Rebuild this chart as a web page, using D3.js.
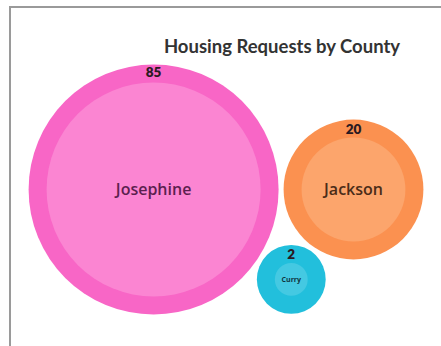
<!DOCTYPE html>
<html>
<head>
<meta charset="utf-8">
<script src="https://cdn.jsdelivr.net/npm/d3@7"></script>
<style>
  html, body { margin: 0; padding: 0; background: #ffffff; }
  svg { display: block; }
</style>
</head>
<body>
<svg id="chart" width="441" height="346"></svg>
<script>
// Housing requests per county
const counties = ["Josephine", "Jackson", "Curry"];
const requests = [85, 20, 2];
const outerColors = ["#f866c6", "#fb9150", "#22bfdc"];
const innerColors = ["#fb85d2", "#fca56c", "#44c9e2"];
const nameColors = ["#5b1f4f", "#4a2c18", "#0f3640"];
const nameSizes = [16, 16, 7];

const W = 441, H = 346;
const svg = d3.select("#chart");

// frame
svg.append("path")
  .attr("d", `M10,${H} V7 H${W}`)
  .attr("fill", "none")
  .attr("stroke", "#9a9a9a")
  .attr("stroke-width", 2);

svg.append("text")
  .attr("x", 282)
  .attr("y", 53)
  .attr("text-anchor", "middle")
  .attr("font-family", "Lato, 'Open Sans', sans-serif")
  .attr("font-weight", 700)
  .attr("font-size", 18.5)
  .attr("fill", "#333333")
  .text("Housing Requests by County");

// bubble radius grows with the square root of the count
const r = d3.scaleSqrt().domain([0, 85]).range([18, 125]);
const pad = 2.5;
const ring = 18;

const nodes = counties.map((name, i) => ({
  name, value: requests[i], i, radius: r(requests[i]), r: r(requests[i]) + pad
}));
d3.packSiblings(nodes);

// center the pack in the plot area
const x0 = d3.min(nodes, d => d.x - d.radius), x1 = d3.max(nodes, d => d.x + d.radius);
const y0 = d3.min(nodes, d => d.y - d.radius), y1 = d3.max(nodes, d => d.y + d.radius);
const cx = 226, cy = 189.5;
const g = svg.append("g")
  .attr("transform", `translate(${cx - (x0 + x1) / 2},${cy - (y0 + y1) / 2})`);

const bubble = g.selectAll("g.bubble")
  .data(nodes)
  .join("g")
  .attr("class", "bubble")
  .attr("transform", d => `translate(${d.x},${d.y})`);

bubble.append("circle")
  .attr("r", d => d.radius)
  .attr("fill", d => outerColors[d.i]);

bubble.append("circle")
  .attr("r", d => d.radius - ring)
  .attr("fill", d => innerColors[d.i]);

bubble.append("text")
  .attr("y", d => -d.radius + (d.i === 0 ? 12.5 : 14.5))
  .attr("text-anchor", "middle")
  .attr("font-family", "Lato, 'Open Sans', sans-serif")
  .attr("font-weight", 800)
  .attr("font-size", 13.5)
  .attr("fill", "#2a1a22")
  .text(d => d.value);

bubble.append("text")
  .attr("y", d => nameSizes[d.i] * 0.36)
  .attr("text-anchor", "middle")
  .attr("font-family", "'Open Sans', Lato, sans-serif")
  .attr("font-weight", d => d.i === 2 ? 700 : 600)
  .attr("font-size", d => nameSizes[d.i])
  .attr("fill", d => nameColors[d.i])
  .text(d => d.name);
</script>
</body>
</html>
